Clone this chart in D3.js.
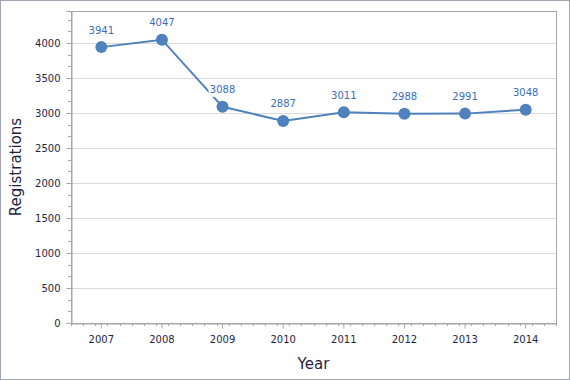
<!DOCTYPE html>
<html lang="en">
<head>
    <meta charset="UTF-8">
    <title>Registrations by Year</title>
    <script src="https://d3js.org/d3.v7.min.js"></script>
    <style>
        body { margin: 0; background: #fff; }
        svg { display: block; font-family: "DejaVu Sans", sans-serif; }
    </style>
</head>
<body>
    <div id="chart"></div>
    <script>
        // chart data
        const years = ["2007", "2008", "2009", "2010", "2011", "2012", "2013", "2014"];
        const registrations = [3941, 4047, 3088, 2887, 3011, 2988, 2991, 3048];
        const yTicks = [0, 500, 1000, 1500, 2000, 2500, 3000, 3500, 4000];

        const width = 570, height = 380;
        const margin = { left: 71, right: 14, top: 11, bottom: 57 };
        const plotW = width - margin.left - margin.right;
        const plotH = height - margin.top - margin.bottom;

        const svg = d3.select('#chart').append('svg')
            .attr('width', width)
            .attr('height', height);

        // outer frame
        svg.append('rect')
            .attr('x', 0.5).attr('y', 0.5)
            .attr('width', width - 1).attr('height', height - 1)
            .attr('fill', '#fff')
            .attr('stroke', '#a3a3b3');

        const g = svg.append('g')
            .attr('transform', `translate(${margin.left},${margin.top})`);

        const x = d3.scaleBand().domain(years).range([0, plotW]);
        const y = d3.scaleLinear().domain([0, 4457]).range([plotH, 0]);

        // gridlines
        g.selectAll('.grid')
            .data(yTicks.filter(d => d > 0))
            .enter().append('line')
            .attr('x1', 0).attr('x2', plotW)
            .attr('y1', d => Math.round(y(d)) + 0.5)
            .attr('y2', d => Math.round(y(d)) + 0.5)
            .attr('stroke', '#d9d9d9');

        // plot border
        g.append('rect')
            .attr('x', 0.5).attr('y', 0.5)
            .attr('width', plotW).attr('height', plotH)
            .attr('fill', 'none')
            .attr('stroke', '#a6a6a6');

        // y axis minor ticks (every 500/3)
        const yMinor = d3.range(0, 4457, 500 / 3);
        g.selectAll('.yminor')
            .data(yMinor)
            .enter().append('line')
            .attr('x1', -3).attr('x2', 0)
            .attr('y1', d => Math.round(y(d)) + 0.5)
            .attr('y2', d => Math.round(y(d)) + 0.5)
            .attr('stroke', '#a6a6a6');

        const yAxis = d3.axisLeft(y).tickValues(yTicks).tickFormat(d3.format('d'))
            .tickSize(5).tickPadding(6);
        const yg = g.append('g').attr('transform', 'translate(0.5,0)').call(yAxis);
        yg.select('.domain').attr('stroke', '#a6a6a6');
        yg.selectAll('.tick line').attr('stroke', '#a6a6a6');
        yg.selectAll('.tick text')
            .attr('fill', '#1f1f3f')
            .style('font-size', '10px')
            .style('font-family', '"DejaVu Sans", sans-serif');

        // x axis minor ticks (5 per category)
        const xMinor = d3.range(0, plotW + 0.1, x.bandwidth() / 5);
        g.selectAll('.xminor')
            .data(xMinor)
            .enter().append('line')
            .attr('x1', d => Math.round(d) + 0.5)
            .attr('x2', d => Math.round(d) + 0.5)
            .attr('y1', plotH).attr('y2', plotH + 3)
            .attr('stroke', '#a6a6a6');

        const xAxis = d3.axisBottom(x).tickSize(5).tickPadding(7).tickSizeOuter(0);
        const xg = g.append('g').attr('transform', `translate(0,${plotH + 0.5})`).call(xAxis);
        xg.select('.domain').attr('stroke', '#a6a6a6');
        xg.selectAll('.tick line').attr('stroke', '#a6a6a6');
        xg.selectAll('.tick text')
            .attr('fill', '#1f1f3f')
            .style('font-size', '10px')
            .style('font-family', '"DejaVu Sans", sans-serif');

        // line + markers
        const pts = years.map((yr, i) => ({ yr, v: registrations[i] }));
        const cx = d => x(d.yr) + x.bandwidth() / 2;

        g.append('path')
            .datum(pts)
            .attr('fill', 'none')
            .attr('stroke', '#4f81bd')
            .attr('stroke-width', 2)
            .attr('d', d3.line().x(cx).y(d => y(d.v)));

        g.selectAll('.pt')
            .data(pts)
            .enter().append('circle')
            .attr('cx', cx)
            .attr('cy', d => y(d.v))
            .attr('r', 6)
            .attr('fill', '#4f81bd');

        // value labels on white boxes (they mask the line beneath)
        const lbl = g.selectAll('.lbl')
            .data(pts)
            .enter().append('g')
            .attr('transform', d => `translate(${cx(d)},${y(d.v) - 17})`);

        lbl.append('rect')
            .attr('x', -14).attr('y', -7)
            .attr('width', 28).attr('height', 14)
            .attr('fill', '#fff');

        lbl.append('text')
            .attr('dy', '0.35em')
            .attr('text-anchor', 'middle')
            .attr('fill', '#3c6eb4')
            .style('font-size', '10px')
            .text(d => d.v);

        // axis titles
        svg.append('text')
            .attr('transform', `translate(21,${margin.top + plotH / 2}) rotate(-90)`)
            .attr('text-anchor', 'middle')
            .attr('fill', '#1f1f3f')
            .style('font-size', '15px')
            .text('Registrations');

        svg.append('text')
            .attr('x', margin.left + plotW / 2)
            .attr('y', 369)
            .attr('text-anchor', 'middle')
            .attr('fill', '#1f1f3f')
            .style('font-size', '15px')
            .text('Year');
    </script>
</body>
</html>
